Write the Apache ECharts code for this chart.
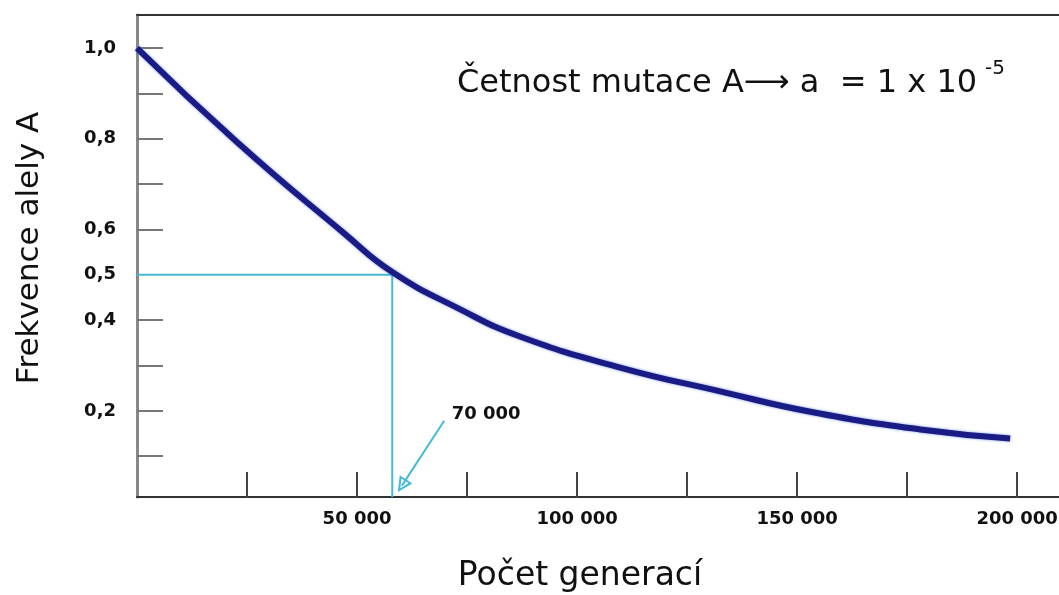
<!DOCTYPE html>
<html>
<head>
<meta charset="utf-8">
<script src="https://cdn.jsdelivr.net/npm/echarts@6/dist/echarts.min.js"></script>
<style>html,body{margin:0;padding:0;background:#fff}#c{width:1059px;height:595px}</style>
</head>
<body>
<div id="c"></div>
<script>
// Curve data (generations, allele frequency)
var generations = [0, 22700, 47000, 58000, 73000, 87000, 110000, 132500, 153000, 178000, 198400];
var frequency   = [1.0, 0.793, 0.592, 0.506, 0.426, 0.364, 0.295, 0.243, 0.198, 0.159, 0.139];
// Guide lines at frequency 0.5
var guideX = [0, 58000, 58000];
var guideY = [0.5, 0.5, 0.01];
// Arrow annotation
var arrowFrom = [69800, 0.178];
var arrowTo = [60200, 0.035];
var arrowLabel = '70 000';
var arrowLabelPos = [71500, 0.192];
// Ticks and labels
var xTicks = [25000, 50000, 75000, 100000, 125000, 150000, 175000, 200000];
var xLabels = [50000, 100000, 150000, 200000];
var yTicks = [0.1, 0.2, 0.3, 0.4, 0.6, 0.7, 0.8, 0.9, 1.0];
var yLabels = [0.2, 0.4, 0.5, 0.6, 0.8, 1.0];

var chart = echarts.init(document.getElementById('c'));
var FONT = '"DejaVu Sans", sans-serif';
var curve = generations.map(function (g, i) { return [g, frequency[i]]; });
var guide = guideX.map(function (g, i) { return [g, guideY[i]]; });
var hollowTri = 'path://M5,0 L10,15 L0,15 Z M5,4.5 L2.2,13.2 L7.8,13.2 Z';

chart.setOption({
  animation: false,
  grid: { left: 137, top: 15, right: 0, bottom: 98, outerBoundsMode: 'none', containLabel: false },
  xAxis: [{
    type: 'value', min: 0, max: 209500,
    name: 'Počet generací', nameLocation: 'middle', nameGap: 63,
    nameTextStyle: { fontFamily: FONT, fontSize: 33, color: '#111', padding: [0, 36, 0, 0] },
    axisLine: { show: true, lineStyle: { color: '#333', width: 2 } },
    axisTick: { show: true, inside: true, length: 25, customValues: xTicks, lineStyle: { color: '#444', width: 2 } },
    axisLabel: { customValues: xLabels, margin: 13, fontFamily: FONT, fontWeight: 'bold', fontSize: 18, color: '#111',
      formatter: function (v) { return String(v).replace(/(\d)(?=(\d{3})+$)/g, '$1 '); } },
    splitLine: { show: false }
  }, {
    type: 'value', position: 'top', min: 0, max: 209500,
    axisLine: { show: true, lineStyle: { color: '#333', width: 2 } },
    axisTick: { show: false }, axisLabel: { show: false }, splitLine: { show: false }
  }],
  yAxis: {
    type: 'value', min: 0.01, max: 1.073,
    name: 'Frekvence alely A', nameLocation: 'middle', nameGap: 92,
    nameTextStyle: { fontFamily: FONT, fontSize: 31, color: '#111', padding: [0, 0, 0, 16] },
    axisLine: { show: true, lineStyle: { color: '#888', width: 3 } },
    axisTick: { show: true, inside: true, length: 26, customValues: yTicks, lineStyle: { color: '#777', width: 2 } },
    axisLabel: { customValues: yLabels, margin: 21, fontFamily: FONT, fontWeight: 'bold', fontSize: 18, color: '#111',
      formatter: function (v) { return v.toFixed(1).replace('.', ','); } },
    splitLine: { show: false }
  },
  series: [{
    type: 'line', data: guide, symbol: 'none', silent: true,
    lineStyle: { color: '#45b9da', width: 2 },
    markLine: {
      silent: true, symbol: ['none', hollowTri], symbolSize: 15,
      itemStyle: { color: '#45b9da' },
      lineStyle: { color: '#45b9da', width: 2, type: 'solid' },
      label: { show: false },
      data: [[{ coord: arrowFrom }, { coord: arrowTo }]]
    },
    markPoint: {
      symbol: 'circle', symbolSize: 0, silent: true,
      label: { show: true, position: 'right', distance: 0, formatter: arrowLabel, fontFamily: FONT, fontWeight: 'bold', fontSize: 18, color: '#111' },
      data: [{ coord: arrowLabelPos }]
    }
  }, {
    type: 'line', data: curve, symbol: 'none', smooth: 0.5, silent: true,
    lineStyle: { color: '#1b1b86', width: 6, shadowColor: 'rgba(70,110,220,0.7)', shadowBlur: 3 }
  }],
  graphic: [{
    type: 'text', left: 457, top: 68,
    style: { text: 'Četnost mutace A⟶ a  = 1 x 10', font: '32px ' + FONT, fill: '#111' }
  }, {
    type: 'text', left: 985, top: 59,
    style: { text: '-5', font: '20px ' + FONT, fill: '#111' }
  }]
});
</script>
</body>
</html>
